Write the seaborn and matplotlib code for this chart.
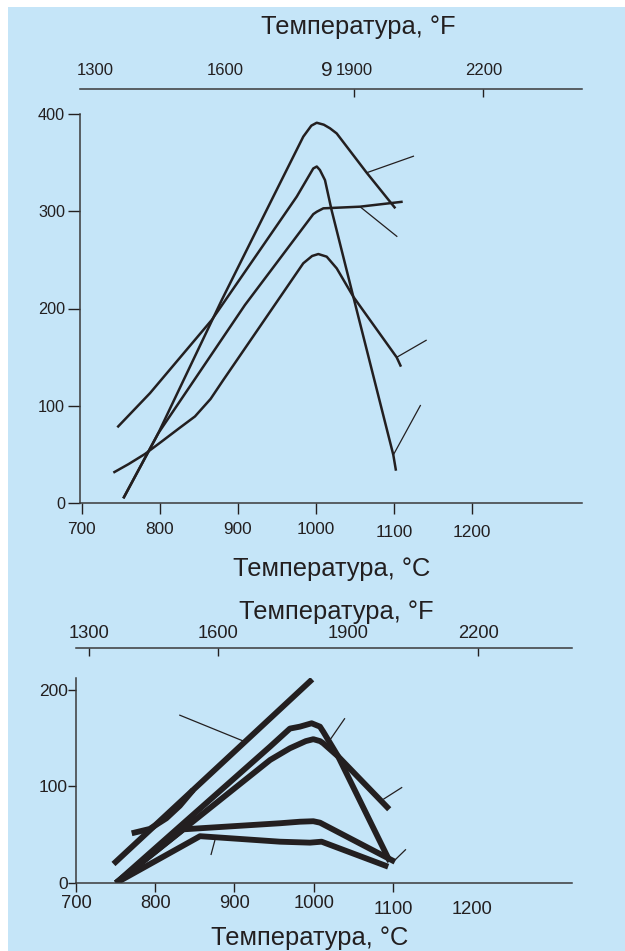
import matplotlib
matplotlib.use('Agg')
import matplotlib.pyplot as plt
import matplotlib.transforms as mtrans
from matplotlib.patches import Rectangle
import seaborn as sns

sns.set_theme(style='ticks')
plt.rcParams['font.family'] = ['Liberation Sans', 'DejaVu Sans']

INK = '#231F20'
AXC = '#3a3a3a'
BG = '#C5E5F8'

# ---------------- data: top chart ----------------
top_c_ticks = [700, 800, 900, 1000, 1100, 1200]
top_y_ticks = [0, 100, 200, 300, 400]
top_f_ticks = [1300, 1600, 1900, 2200]

t1_x = [753.3, 798, 879.3, 945.3, 983.7, 994, 1000.9, 1010, 1017.9, 1026.5, 1064.9, 1101.6]
t1_y = [4.8, 71.7, 208.7, 315, 376.7, 388, 391, 389, 385.3, 380, 339.6, 303]

t2_x = [745.6, 787.5, 866.5, 975.3, 996.5, 1001, 1005, 1011.5, 1020, 1047.8, 1099, 1102.4]
t2_y = [77.8, 113, 188.2, 315, 344, 346, 342.4, 332, 301, 212, 49.4, 33.2]

t3_x = [753.3, 798, 909, 996.5, 1001, 1009.4, 1056.3, 1111]
t3_y = [4.8, 71.7, 203.6, 297, 299.5, 303, 304.7, 309.8]

t4_x = [740.5, 760, 781, 802, 825, 845, 865, 881.3, 983.7, 995, 1003, 1013.7, 1026.5, 1047.8, 1103.3, 1108.8]
t4_y = [31.2, 40, 50.4, 63, 77, 89, 107, 126.5, 246.5, 254, 256, 253.3, 241.3, 212.1, 149.8, 140.2]

top_leaders = [
    ([1064.9, 1125.5], [339.6, 356.8]),
    ([1056.3, 1104.1], [304.7, 273.8]),
    ([1103.3, 1141.7], [149.8, 167.6]),
    ([1099.0, 1134.0], [49.4, 100.8]),
]

# ---------------- data: bottom chart ----------------
bot_c_ticks = [700, 800, 900, 1000, 1100, 1200]
bot_y_ticks = [0, 100, 200]
bot_f_ticks = [1300, 1600, 1900, 2200]

b1_x = [747.3, 998.2]
b1_y = [19.7, 211.1]

b2_x = [770.3, 793, 814, 831, 848]
b2_y = [51.5, 56, 67, 80, 96.5]

b3_x = [750.5, 944.8, 970, 982.6, 997.4, 1007.9, 1012, 1031, 1096.2]
b3_y = [0, 141.2, 160, 162, 165.5, 162, 156.8, 130.9, 22.1]

b4_x = [750.5, 945, 970, 990, 999.5, 1008, 1012, 1031, 1095.3]
b4_y = [0, 127.5, 139.6, 147, 149, 147, 144.8, 131, 76.4]

b5_x = [750.5, 835.4, 856.5, 957.4, 982.6, 999.5, 1008, 1102.5]
b5_y = [0, 55.6, 56.7, 61.9, 63.5, 64, 62.5, 22]

b6_x = [750.5, 856.5, 957.4, 995.3, 1010, 1094]
b6_y = [0, 48.5, 42.8, 41.8, 42.8, 16.9]

bot_leaders = [
    ([830.3, 913.2], [174.1, 146.4]),
    ([1020.5, 1039.4], [148.2, 170.7]),
    ([1087.8, 1111.7], [86.7, 99.2]),
    ([1102.5, 1116.4], [23.8, 34.9]),
    ([875.4, 870.3], [44.6, 29.0]),
]

TITLE_F = 'Температура, °F'
TITLE_C = 'Температура, °C'

W, H = 625, 951
fig = plt.figure(figsize=(W / 100, H / 100), dpi=100, facecolor='white')
fig.patches.append(Rectangle((8 / W, 0), 1 - 8 / W, 1 - 7 / H, transform=fig.transFigure,
                             facecolor=BG, edgecolor='none', zorder=-10))


def px_axes(l, t, r, b):
    ax = fig.add_axes([l / W, 1 - b / H, (r - l) / W, (b - t) / H])
    ax.set_facecolor('none')
    ax.patch.set_visible(False)
    return ax


def style_main(ax):
    for s in ['top', 'right']:
        ax.spines[s].set_visible(False)
    for s in ['left', 'bottom']:
        ax.spines[s].set_color(AXC)
        ax.spines[s].set_linewidth(1.1)


def draw_line(ax, xs, ys, lw):
    sns.lineplot(x=xs, y=ys, ax=ax, color=INK, linewidth=lw, sort=False,
                 estimator=None, solid_capstyle='butt', solid_joinstyle='round')


def f_axis(ax, lim, ticks, length, pad, size, hide_idx):
    for s in ['bottom', 'left', 'right']:
        ax.spines[s].set_visible(False)
    ax.spines['top'].set_color(AXC)
    ax.spines['top'].set_linewidth(1.1)
    ax.set_xlim(*lim)
    ax.set_yticks([])
    ax.set_xticks(ticks)
    ax.set_xticklabels([str(t) for t in ticks])
    ax.xaxis.set_ticks_position('top')
    ax.tick_params(axis='x', direction='in', length=length, width=1.0, pad=pad,
                   labelsize=size, colors=INK, top=True, bottom=False,
                   labeltop=True, labelbottom=False)
    for sp in ax.xaxis.get_major_ticks():
        sp.tick2line.set_color(AXC)
    for i in hide_idx:
        ax.xaxis.get_major_ticks()[i].tick2line.set_visible(False)


# ---------------- top chart ----------------
ax1 = px_axes(80, 114, 582, 503)
style_main(ax1)
for xs, ys in [(t1_x, t1_y), (t2_x, t2_y), (t3_x, t3_y), (t4_x, t4_y)]:
    draw_line(ax1, xs, ys, 1.8)
for xs, ys in top_leaders:
    draw_line(ax1, xs, ys, 0.9)
ax1.set_xlim(697.8, 1340.6)
ax1.set_ylim(0, 400)
ax1.set_xticks(top_c_ticks)
ax1.set_xticklabels([str(t) for t in top_c_ticks])
ax1.set_yticks(top_y_ticks)
ax1.set_yticklabels([str(t) for t in top_y_ticks])
ax1.set_xlabel('')
ax1.set_ylabel('')
ax1.tick_params(axis='x', direction='out', length=7.7, width=1.0, pad=6, labelsize=12.4,
                colors=INK)
ax1.tick_params(axis='y', direction='out', length=8.4, width=1.0, pad=2.4, labelsize=11.7,
                colors=INK)
for t in ax1.xaxis.get_major_ticks() + ax1.yaxis.get_major_ticks():
    t.tick1line.set_color(AXC)

axf1 = px_axes(80, 89, 582, 95)
f_axis(axf1, (1263.6, 2428.6), top_f_ticks, 5.8, 8, 12, [0, 1])

fig.text(358 / W, 1 - 27 / H, TITLE_F, ha='center', va='center', fontsize=18.4, color=INK)
fig.text(332 / W, 1 - 569 / H, TITLE_C, ha='center', va='center', fontsize=18.4, color=INK)
fig.text(333 / W, 1 - 70 / H, '9', ha='right', va='center', fontsize=15, color=INK)

# ---------------- bottom chart ----------------
ax2 = px_axes(76, 678, 572, 883)
style_main(ax2)
for xs, ys in [(b1_x, b1_y), (b2_x, b2_y), (b3_x, b3_y), (b4_x, b4_y), (b5_x, b5_y), (b6_x, b6_y)]:
    draw_line(ax2, xs, ys, 4.2)
for xs, ys in bot_leaders:
    draw_line(ax2, xs, ys, 0.9)
ax2.set_xlim(700, 1326)
ax2.set_ylim(0, 212.4)
ax2.set_xticks(bot_c_ticks)
ax2.set_xticklabels([str(t) for t in bot_c_ticks])
ax2.set_yticks(bot_y_ticks)
ax2.set_yticklabels([str(t) for t in bot_y_ticks])
ax2.set_xlabel('')
ax2.set_ylabel('')
ax2.tick_params(axis='x', direction='out', length=6.5, width=1.0, pad=2.5, labelsize=13.2,
                colors=INK)
ax2.tick_params(axis='y', direction='out', length=5.5, width=1.0, pad=0.3, labelsize=12.5,
                colors=INK)
for t in ax2.xaxis.get_major_ticks() + ax2.yaxis.get_major_ticks():
    t.tick1line.set_color(AXC)
ax2.xaxis.get_major_ticks()[5].tick1line.set_visible(False)

axf2 = px_axes(75.7, 647.7, 572, 655)
f_axis(axf2, (1270.4, 2416), bot_f_ticks, 5.5, 4, 13.2, [2])

fig.text(336 / W, 1 - 612 / H, TITLE_F, ha='center', va='center', fontsize=18.4, color=INK)
fig.text(310 / W, 1 - 938 / H, TITLE_C, ha='center', va='center', fontsize=18.4, color=INK)

# slightly lowered labels for 1100 / 1200
for ax, dy in [(ax1, 3), (ax2, 5)]:
    for t in ax.xaxis.get_major_ticks()[4:]:
        t.label1.set_transform(t.label1.get_transform() +
                               mtrans.ScaledTranslation(0, -dy / 100, fig.dpi_scale_trans))

fig.savefig('out.png', dpi=100, facecolor='white')
